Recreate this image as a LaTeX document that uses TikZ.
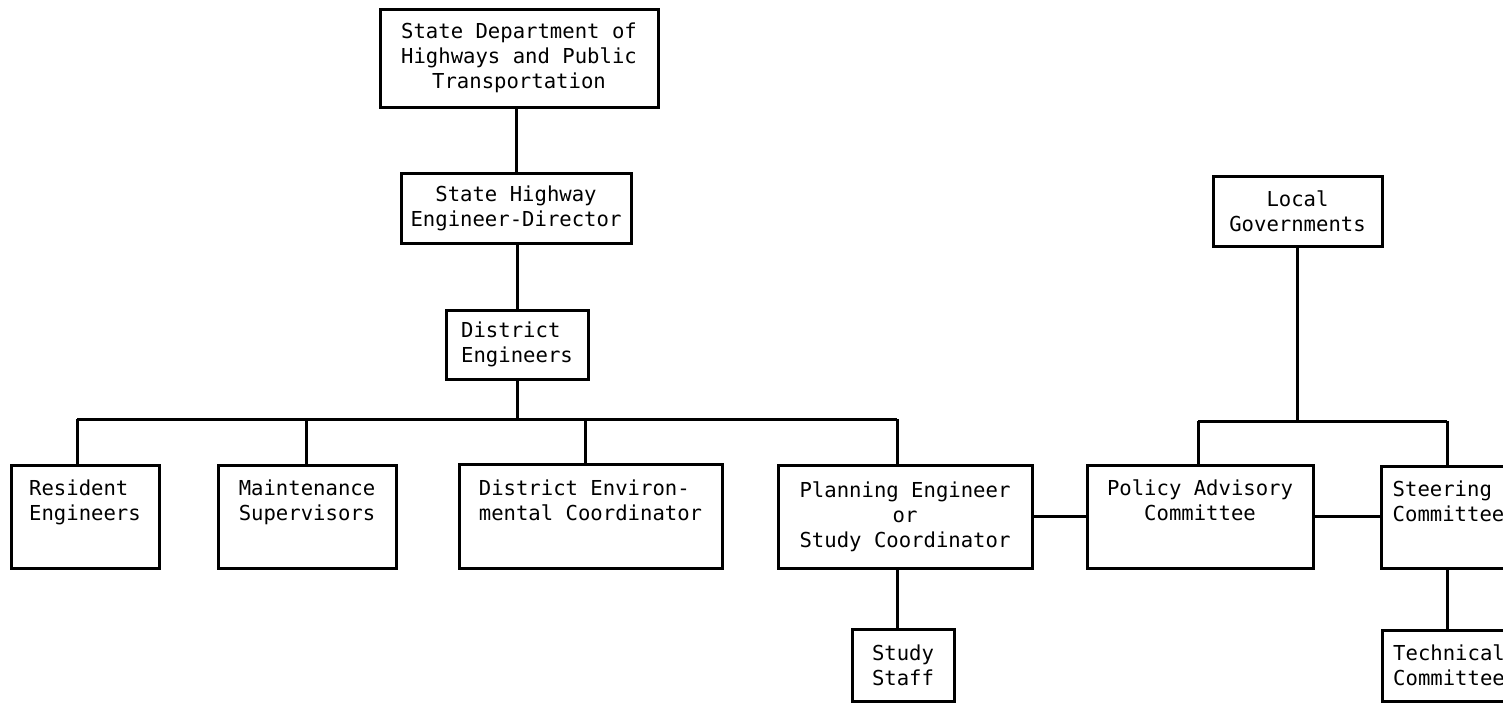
\documentclass[tikz,border=0pt]{standalone}
\usepackage{fontspec}
\newfontfamily\boxfont{DejaVu Sans Mono}
\begin{document}
\begin{tikzpicture}[x=0.5pt,y=-0.5pt,
  box/.style={draw, line width=1.5pt, inner sep=0pt, align=center,
    font={\boxfont\fontsize{10.3}{12.5}\selectfont}},
  bx/.style 2 args={minimum width=#1*0.5pt, minimum height=#2*0.5pt},
  link/.style={line width=1.5pt}]
\useasboundingbox (0,0) rectangle (1503,703);
\fill[white] (0,0) rectangle (1503,703);
\clip (0,0) rectangle (1503,703);
% boxes
\node[box, bx={278}{98}] (dept) at (519,58) {State Department of\\Highways and Public\\Transportation};
\node[box, bx={230}{70}] (shed) at (516,208) {State Highway\\Engineer-Director};
\node[box, bx={142}{69}, align=left] (dist) at (517,344.5) {District\\Engineers};
\node[box, bx={148}{103}, align=left] (res) at (85,516.5) {Resident\\Engineers\\\strut};
\node[box, bx={178}{103}] (maint) at (307,516.5) {Maintenance\\Supervisors\\\strut};
\node[box, bx={263}{104}, align=left] (env) at (590.5,516) {District Environ-\\mental Coordinator\\\strut};
\node[box, bx={254}{103}] (plan) at (905,516.5) {Planning Engineer\\or\\Study Coordinator};
\node[box, bx={102}{72}] (staff) at (903,665) {Study\\Staff};
\node[box, bx={169}{70}] (local) at (1297.5,211) {Local\\Governments};
\node[box, bx={226}{103}] (policy) at (1200,516.5) {Policy Advisory\\Committee\\\strut};
\node[box, bx={135}{102}, align=left] (steer) at (1448.5,517) {Steering\\Committee\\\strut};
\node[box, bx={134}{71}, align=left] (tech) at (1449,665.5) {Technical\\Committee};
% bus points
\coordinate (busL) at (77,419);
\coordinate (b2) at (306,419);
\coordinate (b3) at (585,419);
\coordinate (busR) at (897,419);
\coordinate (bus2L) at (1198,421);
\coordinate (bus2R) at (1447,421);
% connectors
\draw[link] (dept.south -| shed.north) -- (shed.north);
\draw[link] (shed.south -| dist.north) -- (dist.north);
\draw[link] (dist.south) -- (dist.south |- busL);
\draw[link] (busL) -- (busR);
\draw[link] (busL) -- (busL |- res.north);
\draw[link] (b2) -- (b2 |- maint.north);
\draw[link] (b3) -- (b3 |- env.north);
\draw[link] (busR) -- (busR |- plan.north);
\draw[link] (plan.south -| busR) -- (staff.north -| busR);
\draw[link] (plan.east) -- (plan.east -| policy.west);
\draw[link] (policy.east) -- (policy.east -| steer.west);
\draw[link] (local.south) -- (local.south |- bus2L);
\draw[link] (bus2L) -- (bus2R);
\draw[link] (bus2L) -- (bus2L |- policy.north);
\draw[link] (bus2R) -- (bus2R |- steer.north);
\draw[link] (steer.south -| bus2R) -- (tech.north -| bus2R);
\end{tikzpicture}
\end{document}
